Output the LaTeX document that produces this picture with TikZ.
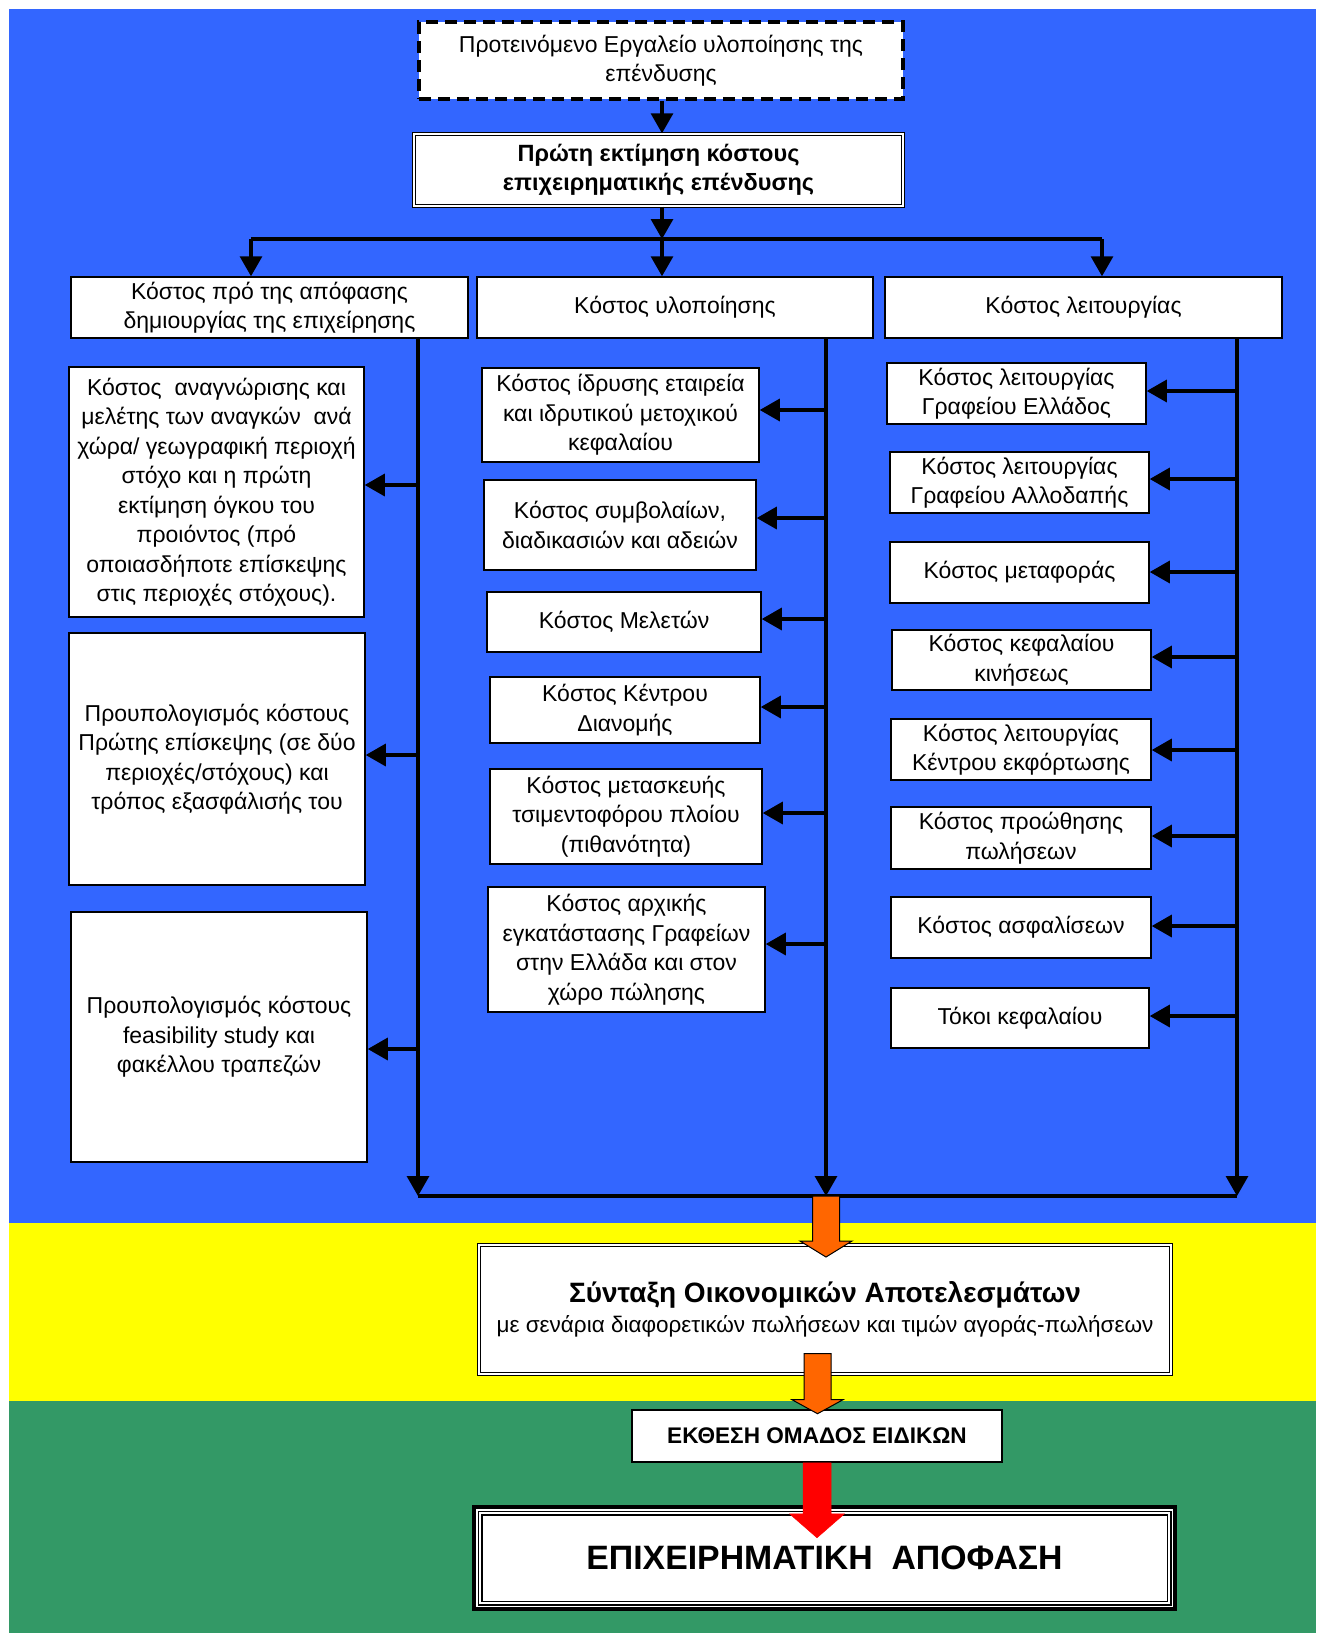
\documentclass[tikz,border=0pt]{standalone}
\usepackage{fontspec}
\setmainfont{Liberation Sans}
\usetikzlibrary{arrows.meta,calc}
\definecolor{bgblue}{RGB}{51,102,255}
\definecolor{bgyellow}{RGB}{255,255,0}
\definecolor{bggreen}{RGB}{51,153,102}
\definecolor{fatorange}{RGB}{255,102,0}
\definecolor{fatred}{RGB}{255,0,0}

% block arrow: style, start point, half shaft, half head, shaft length, head length
\newcommand\blockarrow[6]{%
  \draw[#1] ($(#2)+(-#3,0)$) -- ++(0,#5) -- ++(#3-#4,0) -- ++(#4,#6)
    -- ++(#4,-#6) -- ++(#3-#4,0) -- ++(0,-#5) -- cycle;}

\begin{document}
\begin{tikzpicture}[x=1pt,y=-1pt,
  box/.style={draw=black, line width=1.5pt, fill=white, inner sep=2pt,
    align=center, font=\fontsize{23}{29.5}\selectfont},
  dbox/.style={box, double=white, double distance=2pt, line width=1.4pt},
  dashbox/.style={box, line width=3.5pt, dash pattern=on 12pt off 7pt},
  conn/.style={line width=3.2pt, draw=black},
  arrowline/.style={conn, -{Triangle[width=22pt,length=20pt]}},
  fatarrow/.style={fill=fatorange, draw=black, line width=1pt},
  redarrow/.style={fill=fatred, draw=fatred, line width=0.5pt}]

\useasboundingbox (0,0) rectangle (1319,1633);

% coloured bands
\fill[bgblue] (9,9) rectangle (1316,1223);
\fill[bgyellow] (9,1223) rectangle (1316,1401);
\fill[bggreen] (9,1401) rectangle (1316,1633);

% top of the chart
\node[dashbox, minimum width=484, minimum height=77] (top) at (661,60.5)
  {Προτεινόμενο Εργαλείο υλοποίησης της\\επένδυσης};
\node[dbox, minimum width=489, minimum height=72,
  font=\fontsize{23.5}{29.5}\selectfont\bfseries] (P) at (658.5,170)
  {Πρώτη εκτίμηση κόστους\\επιχειρηματικής επένδυσης};

% column headers
\node[box, minimum width=397, minimum height=61] (hL) at (269.5,307.5)
  {Κόστος πρό της απόφασης\\δημιουργίας της επιχείρησης};
\node[box, minimum width=396, minimum height=61] (hM) at (675,307.5)
  {Κόστος υλοποίησης};
\node[box, minimum width=397, minimum height=61] (hR) at (1083.5,307.5)
  {Κόστος λειτουργίας};

% left column
\node[box, minimum width=295, minimum height=250] (L1) at (216.5,492)
  {Κόστος~ αναγνώρισης και\\μελέτης των αναγκών~ ανά\\χώρα/ γεωγραφική περιοχή\\στόχο και η πρώτη\\εκτίμηση όγκου του\\προιόντος (πρό\\οποιασδήποτε επίσκεψης\\στις περιοχές στόχους).};
\node[box, minimum width=296, minimum height=252] (L2) at (217,759)
  {Προυπολογισμός κόστους\\Πρώτης επίσκεψης (σε δύο\\περιοχές/στόχους) και\\τρόπος εξασφάλισής του};
\node[box, minimum width=296, minimum height=250] (L3) at (219,1037)
  {Προυπολογισμός κόστους\\feasibility study και\\φακέλλου τραπεζών};

% middle column
\node[box, minimum width=277, minimum height=94] (M1) at (620.5,415)
  {Κόστος ίδρυσης εταιρεία\\και ιδρυτικού μετοχικού\\κεφαλαίου};
\node[box, minimum width=272, minimum height=90] (M2) at (620,525)
  {Κόστος συμβολαίων,\\διαδικασιών και αδειών};
\node[box, minimum width=274, minimum height=60] (M3) at (624,622)
  {Κόστος Μελετών};
\node[box, minimum width=270, minimum height=66] (M4) at (625,710)
  {Κόστος Κέντρου\\Διανομής};
\node[box, minimum width=272, minimum height=95] (M5) at (626,816.5)
  {Κόστος μετασκευής\\τσιμεντοφόρου πλοίου\\(πιθανότητα)};
\node[box, minimum width=277, minimum height=125] (M6) at (626.5,949.5)
  {Κόστος αρχικής\\εγκατάστασης Γραφείων\\στην Ελλάδα και στον\\χώρο πώλησης};

% right column
\node[box, minimum width=259, minimum height=61] (R1) at (1016.5,393.5)
  {Κόστος λειτουργίας\\Γραφείου Ελλάδος};
\node[box, minimum width=259, minimum height=61] (R2) at (1019.5,482.5)
  {Κόστος λειτουργίας\\Γραφείου Αλλοδαπής};
\node[box, minimum width=259, minimum height=61] (R3) at (1019.5,572.5)
  {Κόστος μεταφοράς};
\node[box, minimum width=259, minimum height=60] (R4) at (1021.5,660)
  {Κόστος κεφαλαίου\\κινήσεως};
\node[box, minimum width=260, minimum height=61] (R5) at (1021,749.5)
  {Κόστος λειτουργίας\\Κέντρου εκφόρτωσης};
\node[box, minimum width=260, minimum height=62] (R6) at (1021,838)
  {Κόστος προώθησης\\πωλήσεων};
\node[box, minimum width=260, minimum height=61] (R7) at (1021,927.5)
  {Κόστος ασφαλίσεων};
\node[box, minimum width=258, minimum height=60] (R8) at (1020,1018)
  {Τόκοι κεφαλαίου};

% results, report and decision
\node[dbox, minimum width=692, minimum height=129,
  font=\fontsize{22.5}{28}\selectfont] (S) at (825,1309.5)
  {{\fontsize{28}{34}\selectfont\bfseries Σύνταξη Οικονομικών Αποτελεσμάτων}\\[2pt]
   με σενάρια διαφορετικών πωλήσεων και τιμών αγοράς-πωλήσεων};
\node[box, minimum width=370, minimum height=52,
  font=\fontsize{22.6}{26}\selectfont\bfseries] (E) at (817,1436)
  {ΕΚΘΕΣΗ ΟΜΑΔΟΣ ΕΙΔΙΚΩΝ};
\node[box, line width=4.5pt, minimum width=701, minimum height=102,
  font=\fontsize{33.8}{39}\selectfont\bfseries] (F) at (824.5,1558)
  {ΕΠΙΧΕΙΡΗΜΑΤΙΚΗ~ ΑΠΟΦΑΣΗ};
\draw[line width=1.5pt] ([shift={(6.5pt,-6.5pt)}]F.north west)
  rectangle ([shift={(-6.5pt,6.5pt)}]F.south east);
\draw[line width=1.5pt] ([shift={(10pt,-10pt)}]F.north west)
  rectangle ([shift={(-10pt,10pt)}]F.south east);

% connectors at the top
\coordinate (s0) at (662,239);
\coordinate (sL) at (251,239);
\coordinate (sR) at (1102,239);
\draw[arrowline] (top.south -| s0) -- (P.north -| s0);
\draw[arrowline] (P.south -| s0) -- (s0);
\draw[conn] (sL) -- (sR);
\draw[arrowline] (sL) -- (hL.north -| sL);
\draw[arrowline] (s0) -- (hM.north -| s0);
\draw[arrowline] (sR) -- (hR.north -| sR);

% trunks and the collecting line
\coordinate (bL) at (418,1196);
\coordinate (bM) at (826,1196);
\coordinate (bR) at (1237,1196);
\draw[arrowline] (hL.south -| bL) -- (bL);
\draw[arrowline] (hM.south -| bM) -- (bM);
\draw[arrowline] (hR.south -| bR) -- (bR);
\draw[conn] (bL) -- (bR);

% branches to the cost items
\foreach \n/\y in {L1/485, L2/755, L3/1049}
  \draw[arrowline] (bL |- 0,\y) -- (\n.east |- 0,\y);
\foreach \n/\y in {M1/410, M2/518, M3/619, M4/707, M5/813, M6/944}
  \draw[arrowline] (bM |- 0,\y) -- (\n.east |- 0,\y);
\foreach \n/\y in {R1/391, R2/479, R3/572, R4/657, R5/750, R6/836, R7/926, R8/1016}
  \draw[arrowline] (bR |- 0,\y) -- (\n.east |- 0,\y);

% block arrows down to the decision
\blockarrow{fatarrow}{bM}{13.5}{26}{45}{16}
\coordinate (a2) at ($(S.south)+(-7.5,-21)$);
\blockarrow{fatarrow}{a2}{13.5}{25.5}{46}{14}
\blockarrow{redarrow}{E.south}{14}{27.5}{51}{24}

\end{tikzpicture}
\end{document}
